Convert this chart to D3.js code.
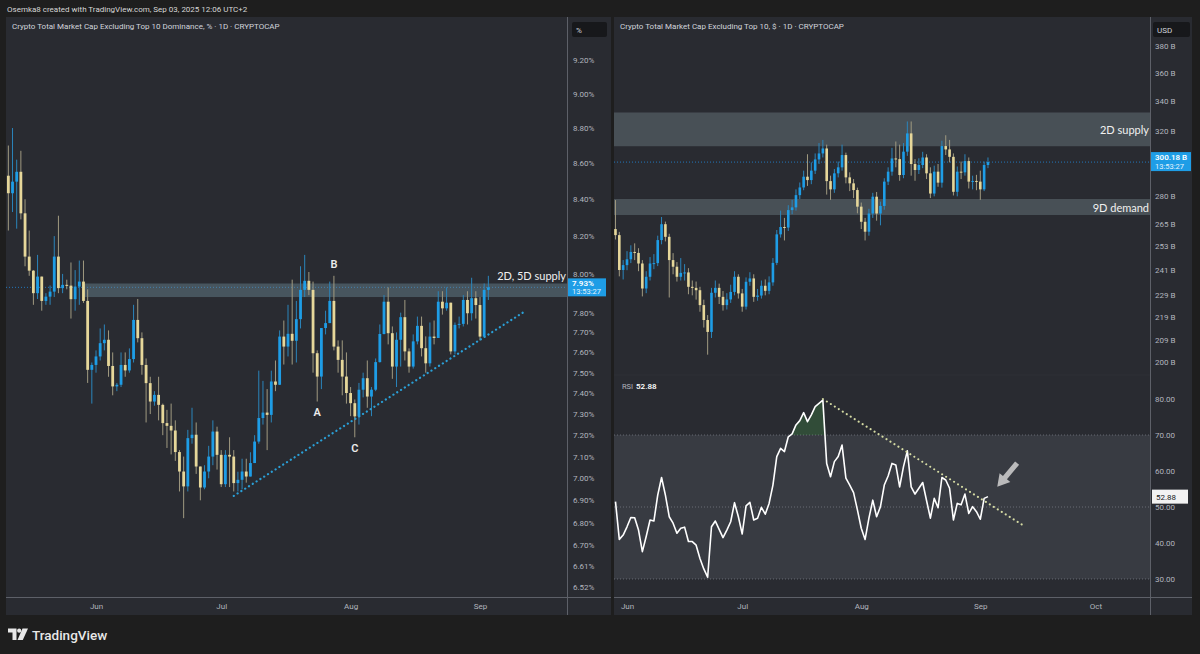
<!DOCTYPE html>
<html>
<head>
<meta charset="utf-8">
<script src="https://cdn.jsdelivr.net/npm/d3@7"></script>
<style>
body { margin: 0; background: #1e1e1e; }
svg text { font-family: Roboto, "Noto Sans", sans-serif; }
</style>
</head>
<body>
<script>

// ---- left chart: Top 10 dominance, %, daily candles from May 11 ----
var domStart = "2025-05-11";
var domFirstOpen = 8.53;
var domClose = [
    8.433, 8.497, 8.552, 8.323, 8.091, 8.017, 7.900, 7.986, 7.860, 7.882,
    7.908, 8.091, 7.926, 7.943, 7.939, 7.869, 7.934, 7.960, 7.860, 7.514,
    7.538, 7.580, 7.646, 7.663, 7.533, 7.433, 7.441, 7.538, 7.511, 7.567,
    7.763, 7.671, 7.538, 7.449, 7.360, 7.392, 7.344, 7.257, 7.244, 7.222,
    7.121, 7.031, 6.963, 7.186, 7.202, 7.054, 6.958, 7.031, 7.100, 7.217,
    7.108, 6.973, 7.108, 7.100, 6.978, 6.993, 7.031, 7.008, 7.070, 7.170,
    7.281, 7.307, 7.296, 7.457, 7.441, 7.679, 7.629, 7.693, 7.658, 7.767,
    7.917, 7.964, 7.917, 7.596, 7.481, 7.722, 7.747, 7.860, 7.629, 7.563,
    7.481, 7.401, 7.352, 7.289, 7.417, 7.473, 7.384, 7.417, 7.552, 7.692,
    7.856, 7.696, 7.530, 7.663, 7.777, 7.605, 7.530, 7.655, 7.733, 7.621,
    7.546, 7.679, 7.672, 7.856, 7.822, 7.851, 7.605, 7.738, 7.743, 7.865,
    7.797, 7.874, 7.839, 7.679, 7.917, 7.930
];
var domHigh = [
    8.70, 8.80, 8.62, 8.67, 8.40, 8.23, 8.02, 8.10, 7.98, 7.90,
    7.94, 8.20, 8.31, 8.00, 7.97, 8.06, 8.02, 8.07, 8.07, 7.92,
    7.55, 7.61, 7.72, 7.74, 7.71, 7.60, 7.45, 7.60, 7.60, 7.62,
    7.84, 7.87, 7.70, 7.57, 7.48, 7.41, 7.48, 7.35, 7.32, 7.35,
    7.27, 7.13, 7.10, 7.225, 7.33, 7.26, 7.05, 7.06, 7.15, 7.27,
    7.24, 7.13, 7.13, 7.19, 7.13, 7.03, 7.09, 7.09, 7.12, 7.20,
    7.51, 7.46, 7.42, 7.51, 7.56, 7.71, 7.76, 7.84, 7.97, 7.86,
    8.04, 8.10, 8.01, 7.96, 7.61, 7.72, 7.81, 7.96, 7.99, 7.66,
    7.66, 7.60, 7.43, 7.37, 7.45, 7.50, 7.56, 7.43, 7.57, 7.74,
    7.89, 7.93, 7.73, 7.70, 7.80, 7.865, 7.62, 7.69, 7.78, 7.78,
    7.68, 7.75, 7.76, 7.91, 7.91, 7.93, 7.85, 7.75, 7.78, 7.89,
    7.91, 7.98, 7.91, 7.88, 7.95, 7.99
];
var domLow = [
    8.23, 8.33, 8.24, 8.29, 8.04, 7.99, 7.84, 7.87, 7.81, 7.84,
    7.84, 7.88, 7.90, 7.90, 7.92, 7.77, 7.81, 7.84, 7.85, 7.45,
    7.35, 7.50, 7.56, 7.61, 7.48, 7.39, 7.41, 7.43, 7.48, 7.50,
    7.55, 7.65, 7.49, 7.26, 7.30, 7.34, 7.27, 7.20, 7.14, 7.11,
    7.08, 6.94, 6.82, 6.94, 7.16, 7.02, 6.90, 6.95, 7.00, 7.06,
    7.04, 6.96, 6.96, 6.96, 6.94, 6.94, 6.95, 6.98, 7.01, 7.07,
    7.16, 7.25, 7.13, 7.26, 7.41, 7.44, 7.54, 7.58, 7.54, 7.55,
    7.72, 7.88, 7.89, 7.50, 7.36, 7.42, 7.69, 7.76, 7.61, 7.50,
    7.39, 7.35, 7.29, 7.19, 7.25, 7.38, 7.33, 7.29, 7.41, 7.55,
    7.69, 7.64, 7.47, 7.43, 7.53, 7.56, 7.50, 7.52, 7.64, 7.58,
    7.50, 7.53, 7.64, 7.70, 7.79, 7.81, 7.59, 7.59, 7.72, 7.73,
    7.74, 7.76, 7.77, 7.66, 7.80, 7.865
];
var domTicks = [9.20, 9.00, 8.80, 8.60, 8.40, 8.20, 8.00, 7.80, 7.70, 7.60, 7.50,
    7.40, 7.30, 7.20, 7.10, 7.00, 6.90, 6.80, 6.70, 6.61, 6.52];
var domMonths = ["2025-06-01", "2025-07-01", "2025-08-01", "2025-09-01"];
var domLast = 7.93;
var domZone = {from: "2025-05-29", low: 7.88, high: 7.95, label: "2D, 5D supply"};
var domTrend = [["2025-07-04", 6.92], ["2025-09-12", 7.81]];
var domMarks = [["B", "2025-07-28", 8.03], ["A", "2025-07-24", 7.29], ["C", "2025-08-02", 7.12]];

// ---- right chart: total cap excl. top 10, USD billions, from May 29 ----
var capStart = "2025-05-29";
var capFirstOpen = 262.0;
var capClose = [
    258.8, 241.1, 243.5, 246.4, 250.1, 249.6, 244.3, 232.2, 237.8, 244.3,
    244.5, 256.2, 264.6, 257.9, 246.0, 242.7, 237.8, 239.7, 239.9, 233.0,
    232.5, 231.4, 224.5, 217.8, 212.6, 230.2, 232.5, 228.3, 224.5, 227.1,
    230.6, 237.8, 229.9, 223.8, 235.4, 237.0, 228.3, 228.9, 233.5, 231.1,
    235.1, 244.6, 259.2, 263.1, 262.8, 272.3, 273.8, 280.7, 285.1, 291.4,
    289.4, 295.0, 301.8, 305.5, 308.6, 288.8, 284.0, 293.4, 297.0, 304.5,
    291.0, 287.5, 283.6, 274.2, 265.9, 260.6, 270.4, 279.8, 270.4, 274.6,
    288.5, 294.4, 302.4, 302.0, 292.4, 306.6, 318.2, 299.0, 295.4, 298.4,
    303.0, 293.4, 281.6, 294.4, 287.9, 310.1, 308.0, 303.4, 282.6, 294.4,
    294.0, 300.8, 288.5, 288.9, 288.5, 284.0, 298.4, 300.18
];
var capHigh = [
    277.9, 260.5, 246.0, 250.5, 253.5, 254.5, 252.0, 246.0, 240.5, 247.5,
    249.0, 258.5, 268.5, 266.0, 259.5, 249.5, 245.0, 247.0, 244.0, 242.0,
    236.0, 235.5, 233.0, 227.0, 220.0, 232.5, 236.0, 234.5, 231.0, 230.0,
    234.0, 240.5, 239.0, 232.0, 237.5, 240.0, 239.0, 232.0, 236.0, 236.5,
    238.0, 247.0, 261.5, 272.0, 268.0, 275.0, 278.0, 284.0, 288.0, 295.0,
    305.0, 300.0, 305.5, 312.0, 314.0, 311.0, 292.0, 296.0, 300.5, 311.0,
    306.0, 294.0, 290.0, 285.0, 276.5, 268.0, 273.0, 282.0, 282.5, 277.0,
    290.5, 297.0, 309.0, 313.0, 311.0, 312.0, 326.0, 326.0, 302.0, 302.5,
    306.5, 305.0, 297.0, 298.0, 299.0, 313.5, 317.0, 314.0, 305.5, 297.5,
    300.5, 305.0, 303.0, 292.0, 292.5, 295.0, 300.5, 303.0
];
var capLow = [
    256.5, 238.0, 236.5, 241.0, 244.5, 246.0, 240.5, 228.5, 230.0, 236.0,
    241.5, 243.0, 254.0, 255.5, 228.0, 239.0, 235.5, 236.0, 236.0, 229.5,
    229.0, 227.0, 221.5, 214.5, 203.0, 210.0, 228.0, 225.0, 222.0, 222.5,
    225.5, 229.0, 227.5, 221.5, 222.5, 233.5, 226.0, 226.5, 227.5, 229.0,
    229.5, 233.5, 243.5, 257.5, 256.0, 261.0, 270.0, 272.0, 278.5, 283.5,
    286.0, 287.0, 293.0, 299.0, 303.0, 281.0, 278.0, 282.0, 291.0, 295.0,
    287.5, 283.0, 279.0, 270.5, 262.0, 256.0, 258.5, 268.0, 266.5, 264.0,
    272.5, 286.5, 292.0, 297.0, 289.0, 290.5, 304.0, 292.0, 289.0, 293.0,
    296.5, 290.0, 279.0, 280.0, 285.5, 285.0, 304.5, 300.0, 280.5, 280.0,
    290.0, 292.0, 284.5, 284.0, 283.5, 278.0, 283.0, 296.5
];
var rsiValues = [
    51.5, 41.0, 42.2, 44.5, 47.1, 47.0, 43.6, 37.6, 41.8, 46.4,
    46.1, 53.3, 58.2, 53.3, 47.3, 45.5, 42.7, 44.1, 44.4, 40.4,
    40.4, 39.4, 35.7, 32.8, 30.5, 44.5, 46.1, 43.8, 41.5, 43.6,
    45.9, 51.2, 47.3, 42.5, 50.3, 51.3, 46.4, 46.9, 49.9, 48.0,
    51.0, 56.1, 64.0, 66.3, 65.4, 69.5, 70.3, 72.8, 74.0, 76.2,
    73.7, 75.6, 77.9, 78.8, 79.7, 62.1, 58.4, 62.6, 64.0, 67.2,
    58.0, 56.1, 54.0, 49.2, 44.1, 41.0, 46.9, 51.9, 47.3, 50.1,
    56.1, 58.6, 62.1, 61.7, 55.6, 61.2, 65.6, 55.6, 53.6, 55.2,
    56.8, 51.8, 46.9, 52.4, 49.8, 58.2, 57.5, 55.2, 46.4, 51.0,
    50.6, 53.6, 48.2, 50.1, 48.7, 46.6, 52.4, 52.88
];
var capTicks = [380, 360, 340, 320, 280, 265, 253, 241, 229, 219, 209, 200];
var rsiTicks = [80, 70, 60, 50, 40, 30];
var capMonths = ["2025-06-01", "2025-07-01", "2025-08-01", "2025-09-01", "2025-10-01"];
var capLast = 300.18;
var capZones = [
    {low: 310, high: 332, label: "2D supply", at: 318},
    {low: 269.6, high: 278.5, label: "9D demand", at: 271.3}
];
var rsiTrend = [["2025-07-22", 80.0], ["2025-09-12", 45.0]];
var rsiArrow = [["2025-09-10T14:00", 62.2], ["2025-09-05T10:00", 55.6]];
var lastTime = "13:53:27";

// ---- helpers ----
var parseDay = d3.utcParse("%Y-%m-%d");
var parseHour = d3.utcParse("%Y-%m-%dT%H:%M");
function toDate(s) { return parseDay(s) || parseHour(s); }

function buildCandles(start, firstOpen, close, high, low) {
    var t0 = parseDay(start);
    return close.map(function(c, i) {
        var o = i === 0 ? firstOpen : close[i - 1];
        return {
            date: d3.utcDay.offset(t0, i),
            o: o, c: c,
            h: Math.max(high[i], o, c),
            l: Math.min(low[i], o, c)
        };
    });
}

var upColor = "#1e9de6", downColor = "#e6d79a",
    upWick = "#2b85bb", downWick = "#a09a80";

function drawCandles(g, data, x, y, bodyW) {
    var c = g.selectAll("g.candle").data(data).enter().append("g").attr("class", "candle");
    c.append("line")
        .attr("x1", function(d) { return x(d.date); })
        .attr("x2", function(d) { return x(d.date); })
        .attr("y1", function(d) { return y(d.h); })
        .attr("y2", function(d) { return y(d.l); })
        .attr("stroke", function(d) { return d.c >= d.o ? upWick : downWick; })
        .attr("stroke-width", 1);
    c.append("rect")
        .attr("x", function(d) { return x(d.date) - bodyW / 2; })
        .attr("width", bodyW)
        .attr("y", function(d) { return y(Math.max(d.o, d.c)); })
        .attr("height", function(d) { return Math.max(1, Math.abs(y(d.o) - y(d.c))); })
        .attr("fill", function(d) { return d.c >= d.o ? upColor : downColor; });
}

function clip(id, x0, y0, x1, y1) {
    defs.append("clipPath").attr("id", id).append("rect")
        .attr("x", x0).attr("y", y0).attr("width", x1 - x0).attr("height", y1 - y0);
    return "url(#" + id + ")";
}

function styleAxis(g, size) {
    g.select(".domain").remove();
    g.selectAll("text").attr("fill", "#b2b5be").style("font-size", size + "px");
}

// ---- layout ----
var W = 1200, H = 654;
var L = {x0: 6, x1: 567, y0: 17, y1: 597, ax1: 611, t1: 615};
var R = {x0: 614, x1: 1150, y0: 17, y1: 374, r0: 376, r1: 597, ax1: 1192, t1: 615};

var svg = d3.select("body").append("svg").attr("width", W).attr("height", H);
var defs = svg.append("defs");
svg.append("rect").attr("width", W).attr("height", H).attr("fill", "#1e1e1e");

var panelBg = "#292b31", lineCol = "#5d6068";
svg.append("rect").attr("x", L.x0).attr("y", L.y0).attr("width", L.ax1 - L.x0)
    .attr("height", L.t1 - L.y0).attr("fill", panelBg);
svg.append("rect").attr("x", R.x0).attr("y", R.y0).attr("width", R.ax1 - R.x0)
    .attr("height", R.t1 - R.y0).attr("fill", panelBg);

// header and footer
svg.append("text").attr("x", 7).attr("y", 12).attr("fill", "#d6d6d6").style("font-size", "8px")
    .text("Osemka8 created with TradingView.com, Sep 03, 2025 12:06 UTC+2");

var logo = svg.append("g").attr("fill", "#e8e8e8");
logo.append("path").attr("d", "M8,628.5 h8.5 v11.5 h-4 v-7.5 h-4.5 z");
logo.append("circle").attr("cx", 19.2).attr("cy", 630.7).attr("r", 2.1);
logo.append("path").attr("d", "M22.5,628.5 h5.5 l-5.2,11.5 h-5.3 z");
svg.append("text").attr("x", 32).attr("y", 639.5).attr("fill", "#e8e8e8")
    .style("font-size", "13.5px").style("font-weight", 500).text("TradingView");

// ================= LEFT CHART =================
var xL = d3.scaleUtc().domain([parseDay("2025-06-01"), parseDay("2025-09-01")]).range([96, 480]);
var yL = d3.scaleLog().domain([6.52, 9.20]).range([587, 60]);
var domData = buildCandles(domStart, domFirstOpen, domClose, domHigh, domLow);

var gL = svg.append("g").attr("clip-path", clip("clipL", L.x0, L.y0, L.x1, L.y1));

gL.append("line").attr("x1", L.x0).attr("x2", L.x1)
    .attr("y1", yL(domLast)).attr("y2", yL(domLast))
    .attr("stroke", "#2196f3").attr("stroke-opacity", 0.7).attr("stroke-dasharray", "1,2");

gL.append("rect")
    .attr("x", xL(parseDay(domZone.from))).attr("width", L.x1 - xL(parseDay(domZone.from)))
    .attr("y", yL(domZone.high)).attr("height", yL(domZone.low) - yL(domZone.high))
    .attr("fill", "#6d8a96").attr("fill-opacity", 0.45);

drawCandles(gL, domData, xL, yL, 2.8);

gL.append("line")
    .attr("x1", xL(parseDay(domTrend[0][0]))).attr("y1", yL(domTrend[0][1]))
    .attr("x2", xL(parseDay(domTrend[1][0]))).attr("y2", yL(domTrend[1][1]))
    .attr("stroke", "#2a9fd6").attr("stroke-width", 2.2)
    .attr("stroke-linecap", "round").attr("stroke-dasharray", "0.1,4.4");

gL.selectAll("text.mark").data(domMarks).enter().append("text")
    .attr("class", "mark")
    .attr("x", function(d) { return xL(parseDay(d[1])); })
    .attr("y", function(d) { return yL(d[2]); })
    .attr("text-anchor", "middle").attr("fill", "#ececec")
    .style("font-size", "11px").style("font-weight", 600)
    .text(function(d) { return d[0]; });

svg.append("text").attr("x", L.x1 - 1).attr("y", yL(7.97)).attr("text-anchor", "end")
    .attr("fill", "#f0f0f0").style("font-family", "Lato, sans-serif").style("font-size", "11px")
    .text(domZone.label);

svg.append("text").attr("x", 12).attr("y", 29).attr("fill", "#d1d4dc").style("font-size", "8px")
    .text("Crypto Total Market Cap Excluding Top 10 Dominance, % \u00b7 1D \u00b7 CRYPTOCAP");

// left price axis
var axL = svg.append("g").attr("transform", "translate(" + L.x1 + ",0)")
    .call(d3.axisRight(yL).tickValues(domTicks).tickSize(0).tickPadding(6)
        .tickFormat(function(v) { return v.toFixed(2) + "%"; }));
styleAxis(axL, 8);

svg.append("rect").attr("x", 572).attr("y", 22).attr("width", 35).attr("height", 15)
    .attr("rx", 2).attr("fill", "#17181b");
svg.append("text").attr("x", 576).attr("y", 32.5).attr("fill", "#d1d4dc")
    .style("font-size", "8px").text("%");

var lyL = yL(domLast);
svg.append("rect").attr("x", 568).attr("y", lyL - 9).attr("width", 38).attr("height", 18)
    .attr("fill", "#1e9de6");
svg.append("text").attr("x", 572).attr("y", lyL - 1.5).attr("fill", "#fff")
    .style("font-size", "8px").style("font-weight", 600).text(domLast.toFixed(2) + "%");
svg.append("text").attr("x", 572).attr("y", lyL + 6.5).attr("fill", "#e6f3fc")
    .style("font-size", "7.5px").text(lastTime);

// left time axis
var txL = svg.append("g").attr("transform", "translate(0," + L.y1 + ")")
    .call(d3.axisBottom(xL).tickValues(domMonths.map(parseDay)).tickSize(0).tickPadding(6)
        .tickFormat(d3.utcFormat("%b")));
styleAxis(txL, 8);

svg.append("line").attr("x1", L.x1 + 0.5).attr("x2", L.x1 + 0.5).attr("y1", L.y0).attr("y2", L.t1)
    .attr("stroke", lineCol);
svg.append("line").attr("x1", L.x0).attr("x2", L.ax1).attr("y1", L.y1 + 0.5).attr("y2", L.y1 + 0.5)
    .attr("stroke", lineCol);

// ================= RIGHT CHART =================
var xR = d3.scaleUtc().domain([parseDay("2025-06-01"), parseDay("2025-09-01")]).range([627, 980.3]);
var yR = d3.scaleLog().domain([200, 380]).range([362, 46]);
var yRsi = d3.scaleLinear().domain([30, 80]).range([579, 399]);
var capData = buildCandles(capStart, capFirstOpen, capClose, capHigh, capLow);

var gR = svg.append("g").attr("clip-path", clip("clipR", R.x0, R.y0, R.x1, R.y1));

gR.selectAll("rect.zone").data(capZones).enter().append("rect")
    .attr("class", "zone")
    .attr("x", R.x0).attr("width", R.x1 - R.x0)
    .attr("y", function(d) { return yR(d.high); })
    .attr("height", function(d) { return yR(d.low) - yR(d.high); })
    .attr("fill", "#6f7e86").attr("fill-opacity", 0.45);

gR.append("line").attr("x1", R.x0).attr("x2", R.x1)
    .attr("y1", yR(capLast)).attr("y2", yR(capLast))
    .attr("stroke", "#2196f3").attr("stroke-opacity", 0.7).attr("stroke-dasharray", "1,2");

drawCandles(gR, capData, xR, yR, 2.6);

gR.selectAll("text.zone").data(capZones).enter().append("text")
    .attr("class", "zone")
    .attr("x", R.x1 - 1).attr("y", function(d) { return yR(d.at); })
    .attr("text-anchor", "end").attr("fill", "#f0f0f0")
    .style("font-family", "Lato, sans-serif").style("font-size", "11px")
    .text(function(d) { return d.label; });

svg.append("text").attr("x", 620).attr("y", 29).attr("fill", "#d1d4dc").style("font-size", "8px")
    .text("Crypto Total Market Cap Excluding Top 10, $ \u00b7 1D \u00b7 CRYPTOCAP");

// RSI pane
var rsiData = rsiValues.map(function(v, i) { return {date: capData[i].date, v: v}; });
var gRsi = svg.append("g").attr("clip-path", clip("clipRsi", R.x0, R.r0, R.x1, R.r1));

gRsi.append("rect").attr("x", R.x0).attr("width", R.x1 - R.x0)
    .attr("y", yRsi(70)).attr("height", yRsi(30) - yRsi(70))
    .attr("fill", "#787b86").attr("fill-opacity", 0.2);
gRsi.selectAll("line.lvl").data([70, 50, 30]).enter().append("line")
    .attr("class", "lvl")
    .attr("x1", R.x0).attr("x2", R.x1)
    .attr("y1", function(d) { return yRsi(d); }).attr("y2", function(d) { return yRsi(d); })
    .attr("stroke", "#8a8d96").attr("stroke-opacity", 0.6).attr("stroke-dasharray", "1,2");

var obClip = clip("clipOb", R.x0, R.r0, R.x1, yRsi(70));
gRsi.append("path").datum(rsiData).attr("clip-path", obClip)
    .attr("fill", "#4caf50").attr("fill-opacity", 0.25)
    .attr("d", d3.area()
        .x(function(d) { return xR(d.date); })
        .y0(yRsi(70))
        .y1(function(d) { return yRsi(d.v); }));

gRsi.append("path").datum(rsiData)
    .attr("fill", "none").attr("stroke", "#ffffff").attr("stroke-width", 1.6)
    .attr("stroke-linejoin", "round")
    .attr("d", d3.line()
        .x(function(d) { return xR(d.date); })
        .y(function(d) { return yRsi(d.v); }));

gRsi.append("line")
    .attr("x1", xR(toDate(rsiTrend[0][0]))).attr("y1", yRsi(rsiTrend[0][1]))
    .attr("x2", xR(toDate(rsiTrend[1][0]))).attr("y2", yRsi(rsiTrend[1][1]))
    .attr("stroke", "#d6dca4").attr("stroke-width", 2)
    .attr("stroke-linecap", "round").attr("stroke-dasharray", "0.1,4.6");

// block arrow pointing at the break
(function() {
    var ax0 = xR(toDate(rsiArrow[0][0])), ay0 = yRsi(rsiArrow[0][1]);
    var ax1 = xR(toDate(rsiArrow[1][0])), ay1 = yRsi(rsiArrow[1][1]);
    var dx = ax1 - ax0, dy = ay1 - ay0, len = Math.sqrt(dx * dx + dy * dy);
    var ux = dx / len, uy = dy / len, nx = -uy, ny = ux;
    var headL = 12, headW = 7, shaftW = 2.6;
    var bx = ax1 - ux * headL, by = ay1 - uy * headL;
    var pts = [
        [ax0 + nx * shaftW, ay0 + ny * shaftW],
        [bx + nx * shaftW, by + ny * shaftW],
        [bx + nx * headW, by + ny * headW],
        [ax1, ay1],
        [bx - nx * headW, by - ny * headW],
        [bx - nx * shaftW, by - ny * shaftW],
        [ax0 - nx * shaftW, ay0 - ny * shaftW]
    ];
    gRsi.append("path").attr("d", "M" + pts.join("L") + "Z")
        .attr("fill", "#c9c9c9").attr("fill-opacity", 0.9);
})();

svg.append("text").attr("x", 622).attr("y", 389).attr("fill", "#b2b5be").style("font-size", "7.5px")
    .text("RSI");
svg.append("text").attr("x", 636).attr("y", 389).attr("fill", "#ffffff").style("font-size", "8px")
    .style("font-weight", 600).text(rsiValues[rsiValues.length - 1].toFixed(2));

// right price axes
var axR = svg.append("g").attr("transform", "translate(" + R.x1 + ",0)")
    .call(d3.axisRight(yR).tickValues(capTicks).tickSize(0).tickPadding(5)
        .tickFormat(function(v) { return v + " B"; }));
styleAxis(axR, 8);

var axRsi = svg.append("g").attr("transform", "translate(" + R.x1 + ",0)")
    .call(d3.axisRight(yRsi).tickValues(rsiTicks).tickSize(0).tickPadding(5)
        .tickFormat(function(v) { return v.toFixed(2); }));
styleAxis(axRsi, 8);

svg.append("rect").attr("x", 1153).attr("y", 22).attr("width", 37).attr("height", 15)
    .attr("rx", 2).attr("fill", "#17181b");
svg.append("text").attr("x", 1157).attr("y", 32.5).attr("fill", "#d1d4dc")
    .style("font-size", "8px").text("USD");

var lyR = yR(capLast);
svg.append("rect").attr("x", 1151).attr("y", lyR - 10).attr("width", 40).attr("height", 19)
    .attr("fill", "#1e9de6");
svg.append("text").attr("x", 1155).attr("y", lyR - 2).attr("fill", "#fff")
    .style("font-size", "8px").style("font-weight", 600).text(capLast.toFixed(2) + " B");
svg.append("text").attr("x", 1155).attr("y", lyR + 6.5).attr("fill", "#e6f3fc")
    .style("font-size", "7.5px").text(lastTime);

var lyRsi = yRsi(rsiValues[rsiValues.length - 1]);
svg.append("rect").attr("x", 1152).attr("y", lyRsi - 7).attr("width", 36).attr("height", 14)
    .attr("fill", "#f2f2f2");
svg.append("text").attr("x", 1156).attr("y", lyRsi + 3).attr("fill", "#131722")
    .style("font-size", "8px").text(rsiValues[rsiValues.length - 1].toFixed(2));

// right time axis
var txR = svg.append("g").attr("transform", "translate(0," + R.r1 + ")")
    .call(d3.axisBottom(xR).tickValues(capMonths.map(parseDay)).tickSize(0).tickPadding(6)
        .tickFormat(d3.utcFormat("%b")));
styleAxis(txR, 8);

svg.append("line").attr("x1", R.x1 + 0.5).attr("x2", R.x1 + 0.5).attr("y1", R.y0).attr("y2", R.t1)
    .attr("stroke", lineCol);
svg.append("line").attr("x1", R.x0).attr("x2", R.ax1).attr("y1", R.r1 + 0.5).attr("y2", R.r1 + 0.5)
    .attr("stroke", lineCol);
svg.append("line").attr("x1", R.x0).attr("x2", R.x1).attr("y1", R.y1 + 1).attr("y2", R.y1 + 1)
    .attr("stroke", "#2e3036").attr("stroke-width", 1);

</script>
</body>
</html>
